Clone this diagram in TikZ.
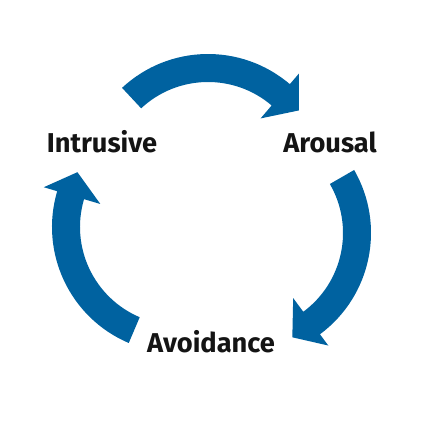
\documentclass[tikz,border=0pt]{standalone}
\usepackage{fontspec}
\setsansfont{Fira Sans}
\usetikzlibrary{calc}
\definecolor{cycblue}{RGB}{0,98,160}
\definecolor{cycdark}{RGB}{20,20,20}
\tikzset{
  stagelabel/.style={font=\sffamily\bfseries\fontsize{15.5}{18}\selectfont,
    text=cycdark, anchor=base, inner sep=0pt},
  cyclearrow/.style={fill=cycblue, draw=none}
}

\begin{document}
\begin{tikzpicture}[x=0.02cm, y=0.02cm]
  \useasboundingbox (0,0) rectangle (425,425);
  % arc centres of the three arrows
  \coordinate (ctop)   at (208,245);
  \coordinate (cright) at (245,192);
  \coordinate (cleft)  at (178,198);

  % thick curved arrows (tail angle, head base = tail - 83.5)
  \foreach \c/\t in {ctop/133, cright/30, cleft/247} {
    \pgfmathsetmacro{\b}{\t-83.5}
    \pgfmathsetmacro{\d}{\t-83.5-90}
    \fill[cyclearrow] ($(\c)+(\t:126)$) arc[start angle=\t, end angle=\b, radius=126]
      -- ($(\c)+(\b:140)$) -- ($(\c)+(\b:112)+(\d:24)$) -- ($(\c)+(\b:81)$)
      -- ($(\c)+(\b:98)$) arc[start angle=\b, end angle=\t, radius=98] -- cycle;
  }

  % stage labels
  \node[stagelabel] (intrusive) at (102,272) {Intrusive};
  \node[stagelabel] (arousal)   at (330,272) {Arousal};
  \node[stagelabel] (avoidance) at (211,72)  {Avoidance};
\end{tikzpicture}
\end{document}
